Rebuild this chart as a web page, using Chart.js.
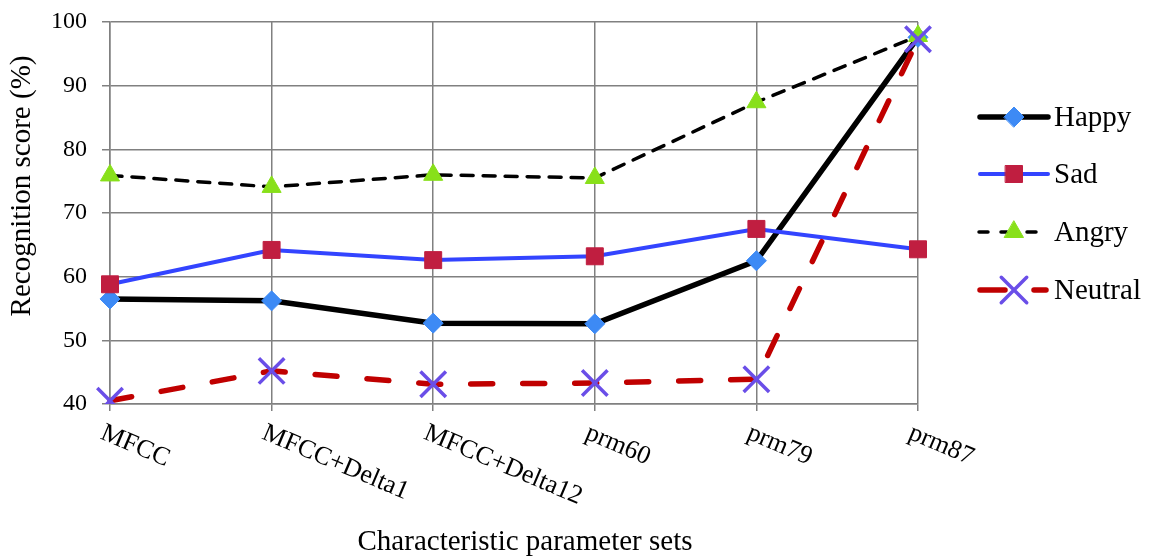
<!DOCTYPE html>
<html>
<head>
<meta charset="utf-8">
<script src="https://cdn.jsdelivr.net/npm/chart.js@4/dist/chart.umd.min.js"></script>
<style>
  html, body { margin: 0; padding: 0; background: #fff; }
  #wrap { width: 1150px; height: 559px; position: relative; }
</style>
</head>
<body>
<div id="wrap"><canvas id="chart"></canvas></div>
<script>
const categories = ['MFCC', 'MFCC+Delta1', 'MFCC+Delta12', 'prm60', 'prm79', 'prm87'];
const happy   = [56.5, 56.2, 52.7, 52.6, 62.5, 97.6];
const sad     = [58.8, 64.2, 62.6, 63.2, 67.5, 64.3];
const angry   = [75.9, 74.1, 76.0, 75.5, 87.4, 97.8];
const neutral = [40.5, 45.2, 43.1, 43.3, 43.9, 97.3];
const yTicks  = [40, 50, 60, 70, 80, 90, 100];

const FONT = '"Liberation Serif", "Times New Roman", serif';
const GRID = '#808080';

// series styles (also reused by the hand-drawn legend)
const series = [
  { label: 'Happy',   data: happy,   line: '#000000', width: 5.5, dash: [],       cap: 'butt',  marker: 'rectRot',  fill: '#3d8af5', r: 10, bw: 1,   order: 3 },
  { label: 'Sad',     data: sad,     line: '#3344ff', width: 4,   dash: [],       cap: 'butt',  marker: 'rect',     fill: '#c01e40', r: 12, bw: 1,   order: 2 },
  { label: 'Angry',   data: angry,   line: '#000000', width: 3.5, dash: [12, 10], cap: 'round', marker: 'triangle', fill: '#88e01a', r: 11, bw: 1,   order: 1 },
  { label: 'Neutral', data: neutral, line: '#c00000', width: 5.5, dash: [22, 30], cap: 'round', marker: 'crossRot', fill: '#6a4ee8', r: 18, bw: 3.5, order: 0 }
];

const datasets = series.map(s => ({
  label: s.label,
  data: s.data,
  borderColor: s.line,
  borderWidth: s.width,
  borderDash: s.dash,
  borderCapStyle: s.cap,
  pointStyle: s.marker,
  pointRadius: s.r,
  pointBackgroundColor: s.fill,
  pointBorderColor: s.fill,
  pointBorderWidth: s.bw,
  tension: 0,
  order: s.order
}));

// x labels, axis titles and legend are drawn by hand
const decor = {
  id: 'decor',
  afterDraw(chart) {
    const ctx = chart.ctx;
    const xs = chart.scales.x;
    ctx.save();
    ctx.fillStyle = '#000';
    ctx.font = '26px ' + FONT;
    ctx.textAlign = 'left';
    ctx.textBaseline = 'top';
    categories.forEach((c, i) => {
      const x = xs.getPixelForTick(i);
      ctx.save();
      ctx.translate(x - 3, 420);
      ctx.rotate(23 * Math.PI / 180);
      ctx.fillText(c, 0, 0);
      ctx.restore();
    });

    ctx.font = '29px ' + FONT;
    ctx.textAlign = 'center';
    ctx.textBaseline = 'middle';
    ctx.fillText('Characteristic parameter sets', 525, 542);
    ctx.save();
    ctx.translate(22, 186);
    ctx.rotate(-Math.PI / 2);
    ctx.fillText('Recognition score (%)', 0, 0);
    ctx.restore();

    // legend
    const ys = [117, 174, 232, 290];
    series.forEach((s, i) => {
      const y = ys[i];
      ctx.save();
      ctx.strokeStyle = s.line;
      ctx.lineWidth = s.width;
      ctx.lineCap = 'round';
      let segs = [[980, 1048]];
      if (s.label === 'Angry') segs = [[979, 988], [1001, 1007], [1027, 1036]];
      if (s.label === 'Neutral') segs = [[980, 1005], [1034, 1046]];
      segs.forEach(p => {
        ctx.beginPath(); ctx.moveTo(p[0], y); ctx.lineTo(p[1], y); ctx.stroke();
      });
      ctx.fillStyle = s.fill;
      ctx.strokeStyle = s.fill;
      ctx.lineWidth = s.bw;
      Chart.helpers.drawPoint(ctx, { pointStyle: s.marker, radius: s.r, borderWidth: s.bw, rotation: 0 }, 1014, y);
      ctx.restore();
      ctx.fillStyle = '#000';
      ctx.textAlign = 'left';
      ctx.fillText(s.label, 1054, y + 1);
    });
    ctx.restore();
  }
};

new Chart(document.getElementById('chart'), {
  type: 'line',
  data: { labels: categories, datasets: datasets },
  options: {
    responsive: true,
    maintainAspectRatio: false,
    animation: false,
    layout: { padding: { left: 0, right: 232, top: 22, bottom: 0 } },
    plugins: { legend: { display: false }, tooltip: { enabled: false } },
    scales: {
      x: {
        offset: false,
        grid: { color: GRID, lineWidth: 1.5, tickLength: 7, drawTicks: true },
        border: { color: GRID, width: 1.5 },
        ticks: { color: 'rgba(0,0,0,0)', font: { family: FONT, size: 22 }, maxRotation: 0, autoSkip: false },
        afterFit(scale) { scale.height = 155; scale.paddingLeft = 0; scale.paddingRight = 0; }
      },
      y: {
        min: 40, max: 100,
        afterBuildTicks(scale) { scale.ticks = yTicks.map(v => ({ value: v })); },
        grid: { color: GRID, lineWidth: 1.5, tickLength: 8 },
        border: { color: GRID, width: 1.5 },
        ticks: { color: '#000', font: { family: FONT, size: 24, lineHeight: 1 }, padding: 15 },
        afterFit(scale) { scale.width = 110; scale.paddingTop = 0; scale.paddingBottom = 0; }
      }
    }
  },
  plugins: [decor]
});
</script>
</body>
</html>
